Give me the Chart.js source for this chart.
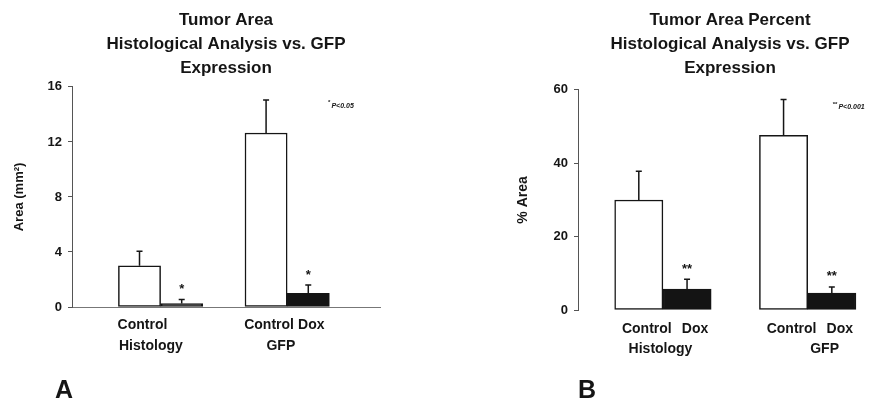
<!DOCTYPE html>
<html><head><meta charset="utf-8">
<script src="https://cdn.jsdelivr.net/npm/chart.js@4/dist/chart.umd.min.js"></script>
<style>
html,body{margin:0;padding:0;background:#fff;overflow:hidden;width:878px;height:400px;}
#wrap{position:relative;width:878px;height:400px;overflow:hidden;background:#fff;}
#ca{position:absolute;left:0;top:0;}
#cb{position:absolute;left:440px;top:0;}
.panel{position:absolute;font:bold 25px/25px "Liberation Sans",Arial,sans-serif;color:#151515;}
</style></head><body>
<div id="wrap">
<canvas id="ca" width="440" height="400"></canvas>
<canvas id="cb" width="460" height="400"></canvas>
<div class="panel" style="left:55px;top:377px">A</div>
<div class="panel" style="left:578px;top:377px">B</div>
</div>
<script>
// ---- data ----
const groupNames = ['Histology', 'GFP'];
const treatments = ['Control', 'Dox', 'Control', 'Dox'];
const xPositions = [1, 2, 4, 5];

const areaTickLabels = ['Control', '', 'Control', 'Dox'];
const areaValues = [3.0, 0.25, 12.65, 1.0];
const areaErrors = [1.05, 0.3, 2.4, 0.6];
const areaSig = ['', '*', '', '*'];
const areaYTicks = [0, 4, 8, 12, 16];

const pctTickLabels = ['Control', 'Dox', 'Control', 'Dox'];
const pctValues = [30, 5.7, 47.6, 4.6];
const pctErrors = [7.8, 2.7, 9.8, 1.7];
const pctSig = ['', '**', '', '**'];
const pctYTicks = [0, 20, 40, 60];

const FONT = '"Liberation Sans", Arial, sans-serif';
const INK = '#151515';

const errPlugin = {
  id: 'errBars',
  afterDatasetsDraw(chart, args, opts) {
    const ctx = chart.ctx, xs = chart.scales.x, ys = chart.scales.y;
    ctx.save();
    ctx.strokeStyle = INK; ctx.lineWidth = 1.5;
    opts.values.forEach((v, i) => {
      const x = xs.getPixelForValue(opts.xPos[i]);
      const y0 = ys.getPixelForValue(v);
      const y1 = ys.getPixelForValue(v + opts.errors[i]);
      ctx.beginPath();
      ctx.moveTo(x, y0); ctx.lineTo(x, y1);
      ctx.moveTo(x - 3, y1); ctx.lineTo(x + 3, y1);
      ctx.stroke();
      if (opts.sig[i]) {
        ctx.fillStyle = INK;
        ctx.font = 'bold 13px ' + FONT;
        ctx.textAlign = 'center'; ctx.textBaseline = 'middle';
        ctx.fillText(opts.sig[i], x, y1 - 10);
      }
    });
    // significance note
    const n = opts.note;
    const nx = xs.getPixelForValue(n.x), ny = ys.getPixelForValue(n.y);
    ctx.fillStyle = INK; ctx.textAlign = 'left'; ctx.textBaseline = 'middle';
    ctx.font = 'bold 6px ' + FONT;
    ctx.fillText(n.star, nx, ny - 2);
    const sw = ctx.measureText(n.star).width;
    ctx.font = 'italic bold 7px ' + FONT;
    ctx.fillText(n.text, nx + sw + 1, ny + 1);
    ctx.restore();
  }
};

function makeChart(id, cfg) {
  const colors = treatments.map(t => t === 'Control' ? '#ffffff' : '#141414');
  return new Chart(document.getElementById(id), {
    type: 'bar',
    data: {
      datasets: [{
        data: xPositions.map((x, i) => ({ x: x, y: cfg.values[i] })),
        backgroundColor: colors,
        borderColor: INK,
        borderWidth: 1.5,
        borderSkipped: false,
        categoryPercentage: 1,
        barPercentage: 1
      }]
    },
    plugins: [errPlugin],
    options: {
      responsive: false,
      animation: false,
      devicePixelRatio: 1,
      layout: { padding: { left: 0, right: cfg.padRight, top: 0, bottom: cfg.padBottom } },
      plugins: {
        legend: { display: false },
        tooltip: { enabled: false },
        title: {
          display: true, fullSize: false,
          text: cfg.title,
          color: INK,
          font: { family: FONT, size: 17, weight: 'bold', lineHeight: 1.41 },
          padding: { top: 8, bottom: cfg.titleBottom }
        },
        errBars: { values: cfg.values, errors: cfg.errors, sig: cfg.sig, xPos: xPositions, note: cfg.note }
      },
      scales: {
        x: {
          type: 'linear', position: 'bottom', weight: 0,
          min: cfg.xMin, max: cfg.xMax, offset: false,
          grid: { display: false, drawTicks: false },
          border: { display: cfg.xBorder, color: '#777', dash: [2, 3], width: 1 },
          afterBuildTicks: s => { s.ticks = xPositions.map(v => ({ value: v })); },
          afterFit: s => { s.height = 28; },
          ticks: {
            autoSkip: false, maxRotation: 0, padding: cfg.xPad, labelOffset: cfg.labelOffset,
            color: INK, font: { family: FONT, size: 14, weight: 'bold' },
            callback: (v, i) => cfg.tickLabels[i]
          }
        },
        x2: {
          type: 'linear', position: 'bottom', weight: 1,
          min: cfg.xMin, max: cfg.xMax, offset: false,
          grid: { display: false, drawTicks: false },
          border: { display: false },
          afterBuildTicks: s => { s.ticks = cfg.groupPos.map(v => ({ value: v })); },
          afterFit: s => { s.height = 30; },
          ticks: {
            autoSkip: false, maxRotation: 0, padding: 3,
            color: INK, font: { family: FONT, size: 14, weight: 'bold' },
            callback: (v, i) => groupNames[i]
          }
        },
        y: {
          min: 0, max: cfg.yMax,
          afterBuildTicks: s => { s.ticks = cfg.yTicks.map(v => ({ value: v })); },
          afterFit: s => { s.width = cfg.yWidth; },
          border: { display: true, color: '#555', dash: [3, 2], width: 1 },
          grid: { display: true, drawOnChartArea: false, drawTicks: true, tickLength: 4, color: '#555' },
          ticks: { padding: 6, color: INK, font: { family: FONT, size: 13, weight: 'bold' } },
          title: {
            display: true, text: cfg.yTitle, color: INK,
            font: { family: FONT, size: cfg.yTitleSize, weight: 'bold' },
            padding: { top: cfg.yTitlePad, bottom: 0 }
          }
        }
      }
    }
  });
}

makeChart('ca', {
  title: ['Tumor Area', 'Histological Analysis vs. GFP', 'Expression'],
  values: areaValues, errors: areaErrors, sig: areaSig, tickLabels: areaTickLabels,
  yTicks: areaYTicks, yMax: 16, yTitle: 'Area (mm\u00B2)', yTitleSize: 13, yTitlePad: 12,
  yWidth: 72, padRight: 60, padBottom: 35, titleBottom: 7,
  xMin: -0.6, xMax: 6.7, xPad: 10, labelOffset: 3, xBorder: true,
  groupPos: [1.27, 4.35],
  note: { star: '*', text: 'P<0.05', x: 5.47, y: 14.7 }
});

makeChart('cb', {
  title: ['Tumor Area Percent', 'Histological Analysis vs. GFP', 'Expression'],
  values: pctValues, errors: pctErrors, sig: pctSig, tickLabels: pctTickLabels,
  yTicks: pctYTicks, yMax: 60, yTitle: '% Area', yTitleSize: 14, yTitlePad: 75,
  yWidth: 138, padRight: 18, padBottom: 32, titleBottom: 10,
  xMin: -0.26, xMax: 6.04, xPad: 11, labelOffset: 8, xBorder: false,
  groupPos: [1.45, 4.85],
  note: { star: '**', text: 'P<0.001', x: 5.02, y: 55.5 }
});
</script>
</body></html>
